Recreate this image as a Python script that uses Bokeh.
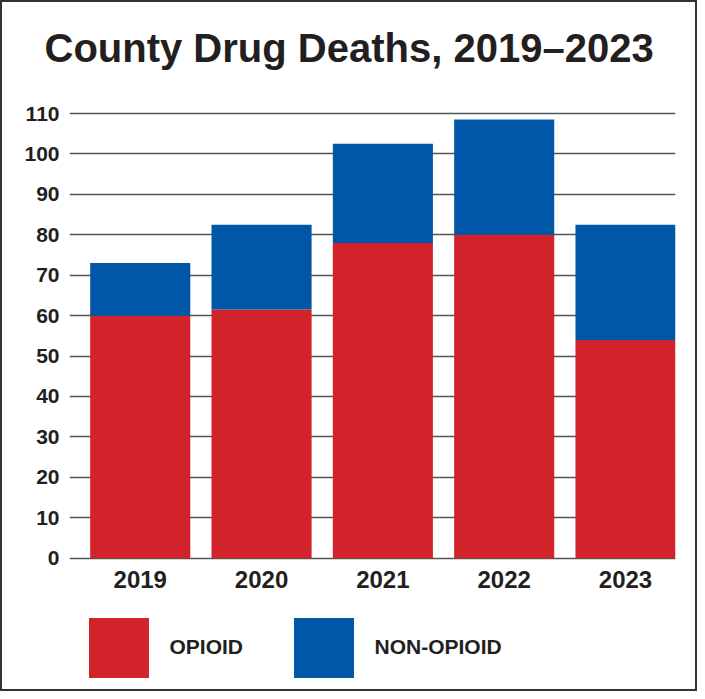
from bokeh.plotting import figure
from bokeh.models import (Range1d, FixedTicker, Legend, LegendItem, ColumnDataSource, Title)
from bokeh.embed import file_html
from bokeh.resources import INLINE

# ---- data ----
years = ["2019", "2020", "2021", "2022", "2023"]
opioid = [60, 61.5, 78, 80, 54]
non_opioid = [13, 21, 24.5, 28.5, 28.5]
y_ticks = list(range(0, 111, 10))
series = ["OPIOID", "NON-OPIOID"]
colors = ["#D2232A", "#0057A8"]
title_text = "County Drug Deaths, 2019\u20132023"

FONT = "Liberation Sans"
INK = "#231F20"

xs = list(range(len(years)))
src = ColumnDataSource(dict(x=xs, opioid=opioid, non_opioid=non_opioid))

p = figure(frame_width=606, frame_height=580, output_backend="svg",
           toolbar_location=None,
           x_range=Range1d(-0.583, 4.412), y_range=Range1d(-32.5, 111),
           min_border_left=67, min_border_right=20, min_border_top=107,
           min_border_bottom=0, background_fill_color="white",
           border_fill_color="white")
p.title = None
p.outline_line_color = None
p.styles = {"border": "2px solid #333333"}

# spacer between frame and title, then the title itself
p.add_layout(Title(text=" ", text_font_size="10px", standoff=27), "above")
p.add_layout(Title(text=title_text, text_font=FONT, text_font_style="bold",
                   text_font_size="40px", text_color=INK, align="left",
                   offset=-25, standoff=0), "above")

rs = p.vbar_stack(["opioid", "non_opioid"], x="x", width=0.825, source=src,
                  color=colors, line_color=None)

# axes
p.yaxis.ticker = FixedTicker(ticks=y_ticks)
p.yaxis.axis_line_color = None
p.yaxis.major_tick_line_color = None
p.yaxis.minor_tick_line_color = None
p.yaxis.major_label_standoff = 4
p.yaxis.major_label_text_font = FONT
p.yaxis.major_label_text_font_style = "bold"
p.yaxis.major_label_text_font_size = "21px"
p.yaxis.major_label_text_color = INK

p.xaxis.ticker = FixedTicker(ticks=xs)
p.xaxis.fixed_location = 0
p.xaxis.major_label_overrides = {i: y for i, y in zip(xs, years)}
p.xaxis.axis_line_color = None
p.xaxis.major_tick_line_color = None
p.xaxis.minor_tick_line_color = None
p.xaxis.major_label_standoff = 7
p.xaxis.major_label_text_font = FONT
p.xaxis.major_label_text_font_style = "bold"
p.xaxis.major_label_text_font_size = "24px"
p.xaxis.major_label_text_color = INK

p.xgrid.grid_line_color = None
p.ygrid.ticker = FixedTicker(ticks=y_ticks)
p.ygrid.grid_line_color = "#555555"
p.ygrid.grid_line_width = 1.3

# legend at the bottom of the frame (legend swatch is drawn at 80% of glyph box)
legend = Legend(items=[LegendItem(label=s, renderers=[r]) for s, r in zip(series, rs)],
                orientation="horizontal", location=(11.5, 4.5),
                glyph_width=75, glyph_height=75, label_standoff=14,
                label_width=116, spacing=0, padding=4, margin=0,
                border_line_color=None, background_fill_alpha=0,
                label_text_font=FONT, label_text_font_style="bold",
                label_text_font_size="21px", label_text_color=INK)
p.add_layout(legend)

open("out.html", "w").write(file_html(p, INLINE))
